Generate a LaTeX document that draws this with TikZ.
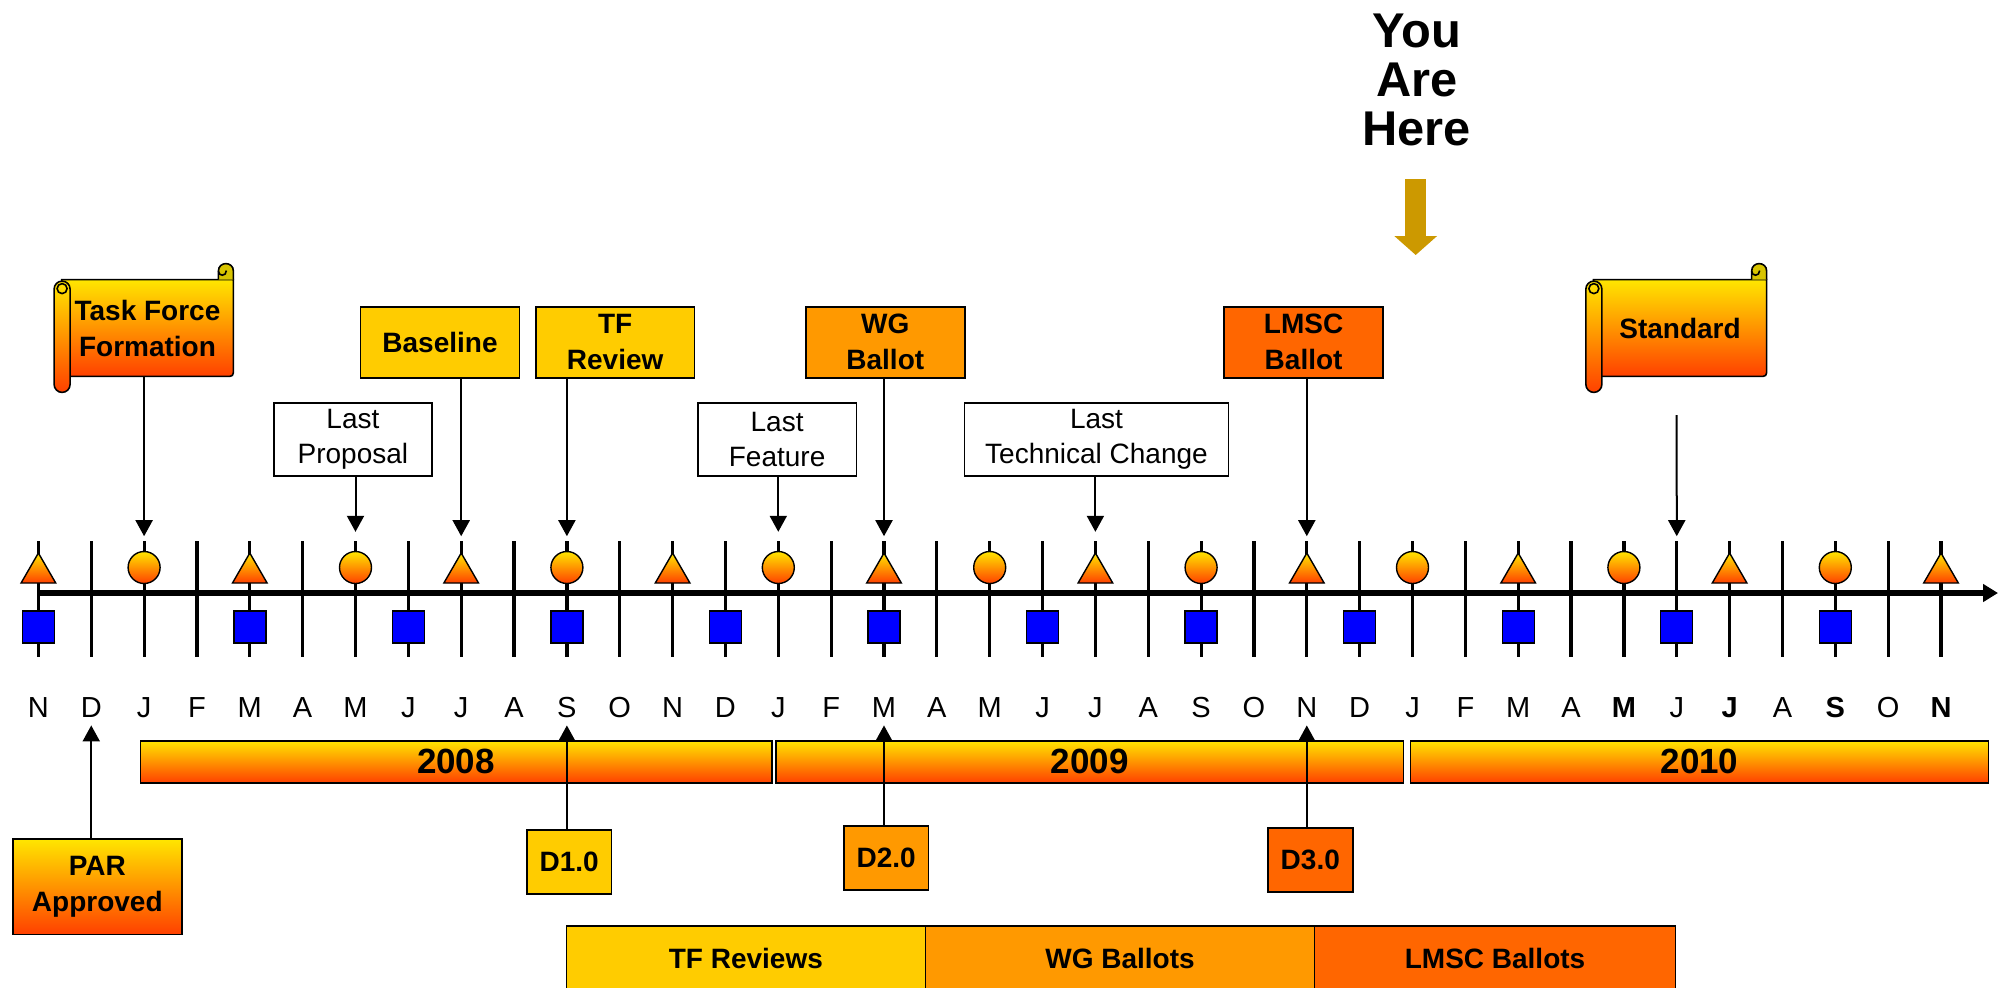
\documentclass[tikz,border=0pt]{standalone}
\usepackage{fontspec}
\setmainfont{Liberation Sans}
\usepackage{tikz}
\usetikzlibrary{arrows.meta,positioning,shapes.geometric,calc,backgrounds}
\definecolor{TFYellow}{HTML}{FFCC00}
\definecolor{WGOrange}{HTML}{FF9900}
\definecolor{LMSCRed}{HTML}{FF6600}
\definecolor{GlowTop}{HTML}{FFE600}
\definecolor{GlowBottom}{HTML}{FF4000}
\definecolor{MarkerBlue}{HTML}{0000FF}
\definecolor{HereGold}{HTML}{CC9900}
\definecolor{CurlOlive}{HTML}{D8C400}

% body, curl and roll of a scroll drawn round a named node
\newcommand{\scrollparts}[1]{%
  \begin{scope}[on background layer]
    \shade[glow, draw, line width=0.8pt]
      (#1.north west) -- (#1.north east) -- ($(#1.south east)+(0,-8)$)
      .. controls (#1.south east) .. ($(#1.south east)+(-8,0)$) -- (#1.south west) -- cycle;
  \end{scope}
  \draw[line width=0.8pt, fill=CurlOlive]
    (#1.north east) -- ($(#1.north east)+(0,-8.5)$)
    .. controls ($(#1.north east)+(0,-18.5)$) and ($(#1.north east)+(-15,-18.5)$) .. ($(#1.north east)+(-15,-8.5)$)
    -- ($(#1.north east)+(-15,0)$);
  \draw[line width=0.8pt] ($(#1.north east)+(-15,-8.5)$)
    .. controls ($(#1.north east)+(-15,-3)$) and ($(#1.north east)+(-7,-3)$) .. ($(#1.north east)+(-7,-9)$);
  \shade[glow, draw, line width=0.8pt, rounded corners=4pt]
    ($(#1.north west)+(-7.5,1.5)$) rectangle ($(#1.south west)+(8.5,16)$);
  \draw[line width=0.8pt] ($(#1.north west)+(0.5,9)$) circle[radius=5];
}

\begin{document}
\begin{tikzpicture}[
  x=0.5pt, y=-0.5pt,
  glow/.style={top color=GlowTop, bottom color=GlowBottom},
  milestone/.style={draw, line width=0.8pt, align=center, inner sep=0pt, minimum width=79.4pt, minimum height=35.5pt, font=\bfseries\fontsize{14}{18}\selectfont},
  note/.style={draw, line width=0.8pt, fill=white, align=center, inner sep=0pt, minimum height=36.6pt, font=\fontsize{14}{17.5}\selectfont},
  draft/.style={draw, line width=0.8pt, inner sep=0pt, minimum width=42.4pt, minimum height=32pt, font=\bfseries\fontsize{14}{18}\selectfont},
  yearbar/.style={draw, line width=0.8pt, glow, inner sep=0pt, minimum height=21pt, font=\bfseries\fontsize{17.5}{20}\selectfont},
  phase/.style={draw, line width=0.8pt, inner sep=0pt, outer sep=0pt, minimum height=32pt, font=\bfseries\fontsize{14}{17}\selectfont},
  month/.style={inner sep=0pt, text height=10pt, text depth=0pt, font=\fontsize{14.5}{16}\selectfont},
  scrollbody/.style={align=center, inner sep=0pt, minimum height=48pt, font=\bfseries\fontsize{14}{18}\selectfont},
  tri/.style={draw, line width=0.7pt, glow, regular polygon, regular polygon sides=3, minimum size=20pt, inner sep=0pt},
  dot/.style={draw, line width=0.7pt, glow, circle, minimum size=16pt, inner sep=0pt},
  sq/.style={draw, line width=0.7pt, fill=MarkerBlue, minimum size=16pt, inner sep=0pt},
  arrow/.style={-{Triangle[width=8.5pt,length=8pt]}, line width=1pt, shorten >=2.4pt},
  notearrow/.style={arrow, shorten >=4.6pt},
  uparrow/.style={arrow, shorten >=3.75pt}
]
  \useasboundingbox (0,0) rectangle (1998,987);

  % month grid and time axis
  \foreach \i in {0,...,36}{
    \pgfmathsetmacro\tx{38.4+52.85*\i}
    \coordinate (k\i) at (\tx,541);
    \draw[line width=1.6pt] (k\i) -- (\tx,657);
  }
  \coordinate (axisstart) at (38.4,593);
  \coordinate (axisend) at (1998,593);
  \draw[line width=3pt, -{Triangle[width=8.5pt,length=7.4pt]}] (axisstart) -- (axisend);

  \foreach \i in {0,4,...,36}
    \node[tri] (tr\i) at (38.4+52.85*\i,573) {};
  \foreach \i in {2,6,...,34}
    \node[dot] (ci\i) at (38.4+52.85*\i,567.5) {};
  \foreach \i in {0,4,7,...,34}
    \node[sq] (sq\i) at (38.4+52.85*\i,627) {};

  \foreach \m [count=\i from 0] in {N,D,J,F,M,A,M,J,J,A,S,O,N,D,J,F,M,A,M,J,J,A,S,O,N,D,J,F,M,A,\textbf{M},J,\textbf{J},A,\textbf{S},O,\textbf{N}}
    \node[month] (mo\i) at (38.4+52.85*\i,707.5) {\m};

  % years
  \node[yearbar, minimum width=315.7pt] (y2008) at (456,761.7) {2008};
  \node[yearbar, minimum width=313.7pt] (y2009) at (1089.9,761.7) {2009};
  \node[yearbar, minimum width=289pt] (y2010) at (1699.5,761.7) {2010};

  % milestones above the axis
  \node[scrollbody, minimum width=85.5pt] (tff) at (147.5,328) {Task Force\\Formation};
  \scrollparts{tff}
  \node[scrollbody, minimum width=86.25pt] (std) at (1680,328) {Standard};
  \scrollparts{std}
  \node[milestone, fill=TFYellow] (baseline) at (440,342.2) {Baseline};
  \node[milestone, fill=TFYellow] (tfr) at (615.2,342.2) {TF\\Review};
  \node[milestone, fill=WGOrange] (wgb) at (885.3,342.2) {WG\\Ballot};
  \node[milestone, fill=LMSCRed] (lmsc) at (1303.6,342.2) {LMSC\\Ballot};
  \node[note, minimum width=79.2pt] (lp) at (352.9,439.4) {Last\\Proposal};
  \node[note, minimum width=79.25pt] (lf) at (777.1,439.4) {Last\\Feature};
  \node[note, minimum width=132.15pt] (ltc) at (1096.5,439.4) {Last\\Technical Change};
  \coordinate (stdtail) at (1676.7,415);

  \draw[arrow] (tff.south -| k2) -- (k2);
  \draw[notearrow] (lp.south -| k6) -- (k6);
  \draw[arrow] (baseline.south -| k8) -- (k8);
  \draw[arrow] (tfr.south -| k10) -- (k10);
  \draw[notearrow] (lf.south -| k14) -- (k14);
  \draw[arrow] (wgb.south -| k16) -- (k16);
  \draw[notearrow] (ltc.south -| k20) -- (k20);
  \draw[arrow] (lmsc.south -| k24) -- (k24);
  \draw[arrow] (stdtail) -- (k31);

  % milestones below the axis
  \node[draft, glow, align=center, minimum width=84.5pt, minimum height=47.7pt] (par) at (97.3,886.7) {PAR\\Approved};
  \node[draft, fill=TFYellow] (d1) at (569.2,862.2) {D1.0};
  \node[draft, fill=WGOrange] (d2) at (886.2,857.9) {D2.0};
  \node[draft, fill=LMSCRed] (d3) at (1310.3,860) {D3.0};

  \draw[uparrow] (par.north -| mo1) -- (mo1.south);
  \draw[uparrow] (d1.north -| mo10) -- (mo10.south);
  \draw[uparrow] (d2.north -| mo16) -- (mo16.south);
  \draw[uparrow] (d3.north -| mo24) -- (mo24.south);

  % ballot phases
  \node[phase, fill=TFYellow, minimum width=179.55pt] (tfrev) at (745.9,958) {TF Reviews};
  \node[phase, fill=WGOrange, minimum width=194.55pt, right=0pt of tfrev] (wgbal) {WG Ballots};
  \node[phase, fill=LMSCRed, minimum width=180.5pt, right=0pt of wgbal] (lmscbal) {LMSC Ballots};

  % current position
  \node[align=center, inner sep=0pt, font=\bfseries\fontsize{24.4}{24.5}\selectfont] (here) at (1416.7,80) {You\\Are\\Here};
  \coordinate (heretail) at (1415.7,179);
  \coordinate (heretip) at (1415.7,255);
  \draw[HereGold, line width=10.35pt, -{Triangle[width=20.85pt,length=9.5pt]}] (heretail) -- (heretip);
\end{tikzpicture}
\end{document}
